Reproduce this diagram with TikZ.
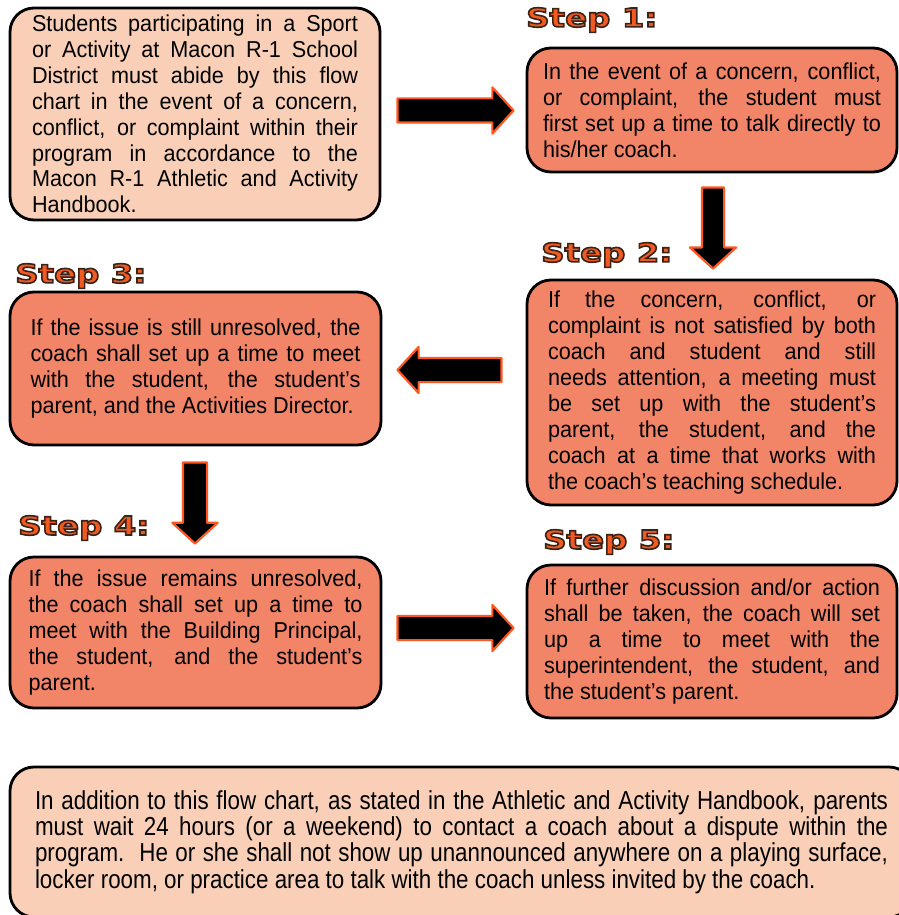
\documentclass[tikz,border=0pt]{standalone}
\usepackage{fontspec}
\setmainfont{Liberation Sans}
\newfontfamily\boxfont[FakeStretch=0.94]{Liberation Sans}
\newfontfamily\narrowfont[FakeStretch=0.86]{Liberation Sans}
\newfontfamily\stepfont[FakeStretch=1.25]{DejaVu Sans Bold}
\usetikzlibrary{shapes.arrows}
\definecolor{peach}{HTML}{F9D0B7}
\definecolor{salmon}{HTML}{F28468}
\definecolor{arroworange}{HTML}{FF5722}
\definecolor{steporange}{HTML}{F25A22}
\newcommand\outlined[1]{\special{pdf:literal direct 2 Tr 1.6 w 0.23 0.14 0.09 RG}#1\special{pdf:literal direct 0 Tr}}
\newcommand\nohyph{\hyphenpenalty=10000\relax\exhyphenpenalty=10000\relax\tolerance=10000\relax\hbadness=10000\relax}
\tikzset{
  box/.style={draw=black, line width=2.8pt, rounded corners=24pt, align=justify,
    inner ysep=0pt, font=\boxfont\fontsize{23}{25.9}\selectfont},
  peachbox/.style={box, fill=peach},
  salmonbox/.style={box, fill=salmon},
  steplabel/.style={anchor=west, inner sep=0pt, text=steporange,
    font=\stepfont\fontsize{26}{28}\selectfont},
  blockarrow/.style={single arrow, draw=arroworange, fill=black, line width=2.2pt,
    line join=round, inner sep=0pt, single arrow tip angle=95, text height=11pt,
    text depth=11pt, single arrow head extend=11pt},
}
\begin{document}
\begin{tikzpicture}[x=1pt,y=-1pt]
\useasboundingbox (0,0) rectangle (898,915);

% boxes
\node[peachbox, text width=326pt, inner xsep=22pt, minimum height=212pt] (b0) at (195,114)
 {\nohyph Students participating in a Sport\linebreak or Activity at Macon R-1 School\linebreak District must abide by this flow\linebreak chart in the event of a concern,\linebreak conflict, or complaint within their\linebreak program in accordance to the\linebreak Macon R-1 Athletic and Activity\linebreak Handbook.};

\node[salmonbox, text width=338pt, inner xsep=16pt, minimum height=124pt] (b1) at (712,110)
 {\nohyph In the event of a concern, conflict,\linebreak or complaint, the student must\linebreak first set up a time to talk directly to\linebreak his/her coach.};

\node[salmonbox, text width=328pt, inner xsep=21pt, minimum height=225pt] (b2) at (712,392.5)
 {\nohyph If the concern, conflict, or\linebreak complaint is not satisfied by both\linebreak coach and student and still\linebreak needs attention, a meeting must\linebreak be set up with the student’s\linebreak parent, the student, and the\linebreak coach at a time that works with\linebreak the coach’s teaching schedule.};

\node[salmonbox, text width=330pt, inner xsep=20.5pt, minimum height=153pt] (b3) at (195.5,368.5)
 {\nohyph If the issue is still unresolved, the\linebreak coach shall set up a time to meet\linebreak with the student, the student’s\linebreak parent, and the Activities Director.};

\node[salmonbox, text width=334pt, inner xsep=18.5pt, minimum height=151pt] (b4) at (195.5,632.5)
 {\nohyph If the issue remains unresolved,\linebreak the coach shall set up a time to\linebreak meet with the Building Principal,\linebreak the student, and the student’s\linebreak parent.};

\node[salmonbox, text width=336pt, inner xsep=17pt, minimum height=153pt] (b5) at (712,641.5)
 {\nohyph If further discussion and/or action\linebreak shall be taken, the coach will set\linebreak up a time to meet with the\linebreak superintendent, the student, and\linebreak the student’s parent.};

\node[peachbox, text width=853pt, inner xsep=25pt, minimum height=150pt,
  font=\narrowfont\fontsize{26}{26.3}\selectfont] (bn) at (461.5,842)
 {\nohyph In addition to this flow chart, as stated in the Athletic and Activity Handbook, parents\linebreak must wait 24 hours (or a weekend) to contact a coach about a dispute within the\linebreak program.\ \ He or she shall not show up unannounced anywhere on a playing surface,\linebreak locker room, or practice area to talk with the coach unless invited by the coach.};

% step labels
\node[steplabel] (l1) at (526,20) {\outlined{Step 1:}};
\node[steplabel] (l2) at (541,255) {\outlined{Step 2:}};
\node[steplabel] (l3) at (15,276) {\outlined{Step 3:}};
\node[steplabel] (l4) at (18,528) {\outlined{Step 4:}};
\node[steplabel] (l5) at (543,542) {\outlined{Step 5:}};

% block arrows
\node[blockarrow, minimum height=116pt] (a1) at (450,110.5) {};
\node[blockarrow, rotate=-90, minimum height=81pt, text height=10pt, text depth=10pt,
  single arrow head extend=12pt] (a2) at (713,223) {};
\node[blockarrow, rotate=180, minimum height=104pt] (a3) at (455,370) {};
\node[blockarrow, rotate=-90, minimum height=81pt, text height=11pt, text depth=11pt,
  single arrow head extend=10.5pt] (a4) at (195,497.5) {};
\node[blockarrow, minimum height=116pt] (a5) at (450,628) {};
\end{tikzpicture}
\end{document}
